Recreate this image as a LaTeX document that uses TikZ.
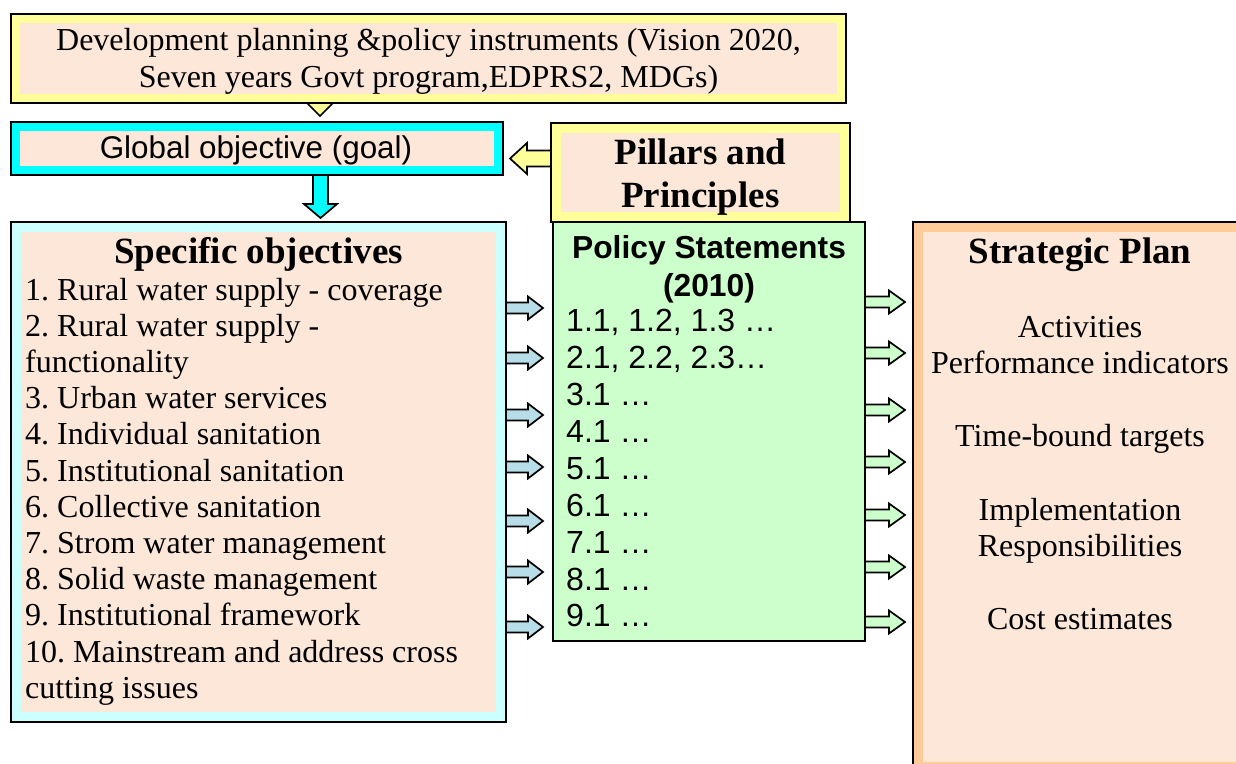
\documentclass[tikz,border=0pt]{standalone}
\usepackage{fontspec}
\setmainfont{Liberation Serif}
\newfontfamily\arialfont{Liberation Sans}
\usetikzlibrary{calc}

\definecolor{peach}{RGB}{252,231,217}
\definecolor{lemon}{RGB}{255,255,153}
\definecolor{aqua}{RGB}{0,255,255}
\definecolor{paleaqua}{RGB}{204,255,255}
\definecolor{mint}{RGB}{204,255,204}
\definecolor{apricot}{RGB}{255,204,153}
\definecolor{steel}{RGB}{183,221,232}

% horizontal block arrow: style, tail, tip, shaft half-height, head half-height, signed head length
\newcommand\harrow[6]{%
  \draw[#1] ($(#2)-(0,#4)$) -- ($(#3)-(#6,#4)$) -- ($(#3)-(#6,#5)$) -- (#3)
    -- ($(#3)-(#6,-#5)$) -- ($(#3)-(#6,-#4)$) -- ($(#2)+(0,#4)$) -- cycle;}
% vertical block arrow: style, tail, tip, shaft half-width, head half-width, signed head length
\newcommand\varrow[6]{%
  \draw[#1] ($(#2)-(#4,0)$) -- ($(#3)-(#4,#6)$) -- ($(#3)-(#5,#6)$) -- (#3)
    -- ($(#3)-(-#5,#6)$) -- ($(#3)-(-#4,#6)$) -- ($(#2)+(#4,0)$) -- cycle;}

\begin{document}
\frenchspacing
\begin{tikzpicture}[x=1pt,y=-1pt,
  frame/.style n args={2}{draw=black, line width=2pt, fill=#1, outer sep=0pt,
    inner sep=0pt, path picture={\fill[peach]
      ($(path picture bounding box.south west)+(#2,-#2)$) rectangle
      ($(path picture bounding box.north east)+(-#2,#2)$);}},
  plainbox/.style={draw=black, line width=2pt, fill=#1, outer sep=0pt, inner sep=0pt},
  tnr/.style={font=\fontsize{32}{36.4}\selectfont, inner sep=0pt},
  tnrb/.style={font=\bfseries\fontsize{37}{43}\selectfont, inner sep=0pt},
  ari/.style={font=\arialfont\fontsize{31.4}{37}\selectfont, inner sep=0pt},
  arilist/.style={font=\arialfont\fontsize{32}{37}\selectfont, inner sep=0pt},
  arib/.style={font=\arialfont\bfseries\fontsize{31.8}{37}\selectfont, inner sep=0pt},
  blk/.style={draw=black, line width=1.7pt, line join=miter, fill=#1}]

\useasboundingbox (0,0) rectangle (1236,763);
\clip (0,0) rectangle (1236,763);

% hidden shaft of the arrow from the instruments box, only its tip shows
\coordinate (devtail) at (320,60);
\coordinate (devtip) at (320,116);
\varrow{blk=lemon}{devtail}{devtip}{8}{13}{13}

% boxes
\node[frame={lemon}{9}, minimum width=835, minimum height=89] (dev) at (428.5,58.5) {};
\node[frame={aqua}{9}, minimum width=492, minimum height=53] (glob) at (257,148.5) {};
\node[frame={lemon}{10}, minimum width=299, minimum height=99] (pill) at (700.5,172.5) {};
\node[frame={paleaqua}{10}, minimum width=495, minimum height=500] (spec) at (258.5,472) {};
\node[plainbox=mint, minimum width=312, minimum height=419] (pol) at (709,431.5) {};
\node[frame={apricot}{10}, minimum width=337, minimum height=550] (strat) at (1081.5,497) {};

% texts
\node[tnr, anchor=base] (dev1) at (428.5,50) {Development planning \&policy instruments (Vision 2020,};
\node[tnr, anchor=base] (dev2) at (428.5,87) {Seven years Govt program,EDPRS2, MDGs)};
\node[ari, anchor=base] (globt) at (256,158) {Global objective (goal)};
\node[tnrb, anchor=base] (pill1) at (700.5,164) {Pillars and};
\node[tnrb, anchor=base] (pill2) at (700.5,207) {Principles};
\node[tnrb, anchor=base] (spech) at (258.5,263) {Specific objectives};
\foreach \t [count=\i from 0] in {
  1. Rural water supply - coverage,
  2. Rural water supply -,
  functionality,
  3. Urban water services,
  4. Individual sanitation,
  5. Institutional sanitation,
  6. Collective sanitation,
  7. Strom water management,
  8. Solid waste management,
  9. Institutional framework,
  10. Mainstream and address cross,
  cutting issues}
  \node[tnr, anchor=base west] (sp\i) at (25,300+36.2*\i) {\t};
\node[arib, anchor=base] (polh1) at (709,258) {Policy Statements};
\node[arib, anchor=base] (polh2) at (709,296) {(2010)};
\foreach \t [count=\i from 0] in {{1.1, 1.2, 1.3 …}, {2.1, 2.2, 2.3…}, 3.1 …, 4.1 …,
  5.1 …, 6.1 …, 7.1 …, 8.1 …, 9.1 …}
  \node[arilist, anchor=base west] (po\i) at (566,331.7+36.9*\i) {\t};
\node[tnrb, anchor=base] (strath) at (1080,263) {Strategic Plan};
\node[tnr, anchor=base] (st1) at (1080,337) {Activities};
\node[tnr, anchor=base] (st2) at (1080,373.6) {Performance indicators};
\node[tnr, anchor=base] (st3) at (1080,446.8) {Time-bound targets};
\node[tnr, anchor=base] (st4) at (1080,520) {Implementation};
\node[tnr, anchor=base] (st5) at (1080,556.6) {Responsibilities};
\node[tnr, anchor=base] (st6) at (1080,629.8) {Cost estimates};

% global objective down to the specific objectives
\coordinate (g1) at (glob.south -| 320.5,0);
\coordinate (g2) at ($(spec.north -| 320.5,0)+(0,-4)$);
\varrow{blk=aqua}{g1}{g2}{7.5}{16.5}{14}

% pillars and principles feed the global objective
\coordinate (p1) at (pill.west |- 0,158.5);
\coordinate (p2) at ($(glob.east |- 0,158.5)+(7,0)$);
\harrow{blk=lemon}{p1}{p2}{8}{15.5}{-17}

% specific objectives to policy statements
\foreach \y in {308,358,415,467,521,572,627} {
  \coordinate (la) at (spec.east |- 0,\y);
  \coordinate (lb) at ($(pol.west |- 0,\y)+(-10,0)$);
  \harrow{blk=steel}{la}{lb}{5.5}{11.5}{15}
}
% policy statements to the strategic plan
\foreach \y in {302,353,410,462,515,567,622} {
  \coordinate (ra) at (pol.east |- 0,\y);
  \coordinate (rb) at ($(strat.west |- 0,\y)+(-8,0)$);
  \harrow{blk=mint}{ra}{rb}{5.5}{11.5}{16}
}
\end{tikzpicture}
\end{document}
